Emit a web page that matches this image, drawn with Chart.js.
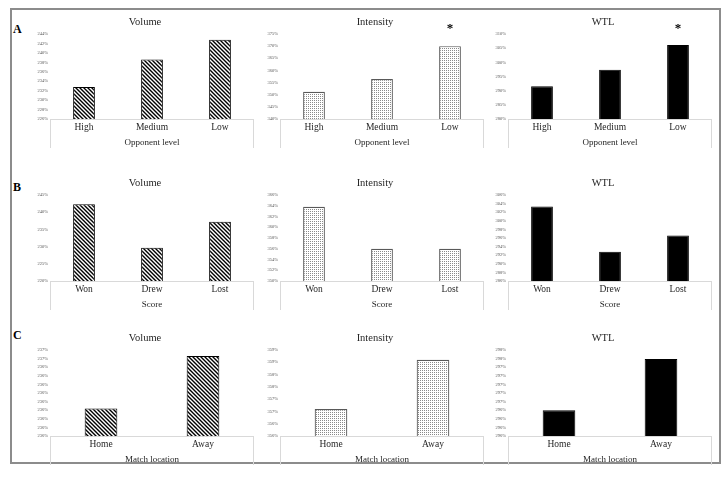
<!DOCTYPE html>
<html>
<head>
<meta charset="utf-8">
<script src="https://cdn.jsdelivr.net/npm/chart.js@4.4.1/dist/chart.umd.min.js"></script>
<style>
html, body { margin: 0; padding: 0; background: #fff; }
body { width: 727px; height: 479px; position: relative; overflow: hidden; }
#frame { position: absolute; left: 10px; top: 8px; width: 707px; height: 452px; border: 2px solid #8c8c8c; }
.tag { position: absolute; font: bold 12px "Liberation Serif", serif; line-height: 12px; color: #000; }
canvas { position: absolute; }
</style>
</head>
<body>
<div id="frame"></div>
<div class="tag" style="left:13px;top:23px">A</div>
<div class="tag" style="left:13px;top:181px">B</div>
<div class="tag" style="left:13px;top:329px">C</div>

<script>
// categories per row
const catsA = ['High', 'Medium', 'Low'];
const catsB = ['Won', 'Drew', 'Lost'];
const catsC = ['Home', 'Away'];
const axisTitles = ['Opponent level', 'Score', 'Match location'];
const titles = ['Volume', 'Intensity', 'WTL'];

// values (%)
const volA = [232.8, 238.6, 242.8];
const intA = [351.2, 356.5, 370.0];
const wtlA = [291.6, 297.4, 306.1];
const volB = [242.3, 229.7, 237.2];
const intB = [363.8, 356.0, 356.0];
const wtlB = [303.3, 292.8, 296.6];
const volC = [235.92, 236.53];
const intC = [356.6, 358.6];
const wtlC = [296.4, 297.59];

// significance markers
const sigA = [false, false, true];
const noSig = [false, false, false];

// y ranges [min, max]
const rangeVolA = [226, 244], rangeIntA = [340, 375], rangeWtlA = [280, 310];
const rangeVolB = [220, 245], rangeIntB = [350, 366], rangeWtlB = [286, 306];
const rangeVolC = [235.6, 236.6], rangeIntC = [355.5, 359], rangeWtlC = [295.8, 297.8];

// tick labels, top to bottom
const ticksVolA = ['244%', '242%', '240%', '238%', '236%', '234%', '232%', '230%', '228%', '226%'];
const ticksIntA = ['375%', '370%', '365%', '360%', '355%', '350%', '345%', '340%'];
const ticksWtlA = ['310%', '305%', '300%', '295%', '290%', '285%', '280%'];
const ticksVolB = ['245%', '240%', '235%', '230%', '225%', '220%'];
const ticksIntB = ['366%', '364%', '362%', '360%', '358%', '356%', '354%', '352%', '350%'];
const ticksWtlB = ['306%', '304%', '302%', '300%', '298%', '296%', '294%', '292%', '290%', '288%', '286%'];
const ticksVolC = ['237%', '237%', '236%', '236%', '236%', '236%', '236%', '236%', '236%', '236%', '236%'];
const ticksIntC = ['359%', '359%', '358%', '358%', '357%', '357%', '356%', '356%'];
const ticksWtlC = ['298%', '298%', '297%', '297%', '297%', '297%', '297%', '296%', '296%', '296%', '296%'];

const panels = [
    { row: 0, col: 0, cats: catsA, data: volA, range: rangeVolA, ticks: ticksVolA, sig: noSig },
    { row: 0, col: 1, cats: catsA, data: intA, range: rangeIntA, ticks: ticksIntA, sig: sigA },
    { row: 0, col: 2, cats: catsA, data: wtlA, range: rangeWtlA, ticks: ticksWtlA, sig: sigA },
    { row: 1, col: 0, cats: catsB, data: volB, range: rangeVolB, ticks: ticksVolB, sig: noSig },
    { row: 1, col: 1, cats: catsB, data: intB, range: rangeIntB, ticks: ticksIntB, sig: noSig },
    { row: 1, col: 2, cats: catsB, data: wtlB, range: rangeWtlB, ticks: ticksWtlB, sig: noSig },
    { row: 2, col: 0, cats: catsC, data: volC, range: rangeVolC, ticks: ticksVolC, sig: noSig },
    { row: 2, col: 1, cats: catsC, data: intC, range: rangeIntC, ticks: ticksIntC, sig: noSig },
    { row: 2, col: 2, cats: catsC, data: wtlC, range: rangeWtlC, ticks: ticksWtlC, sig: noSig },
];

// layout
const colLeft  = [28, 258, 486];
const rowTop   = [8, 169, 324];
const plotH    = [85, 86, 86];
const Y_W = 22, TOP = 26, X_H = 34, PLOT_W = 204, RIGHT = 6;

function stripePattern() {
    const c = document.createElement('canvas');
    c.width = c.height = 4;
    const g = c.getContext('2d');
    g.fillStyle = '#fff'; g.fillRect(0, 0, 4, 4);
    g.strokeStyle = '#000'; g.lineWidth = 1.4;
    g.beginPath();
    g.moveTo(0, 0);  g.lineTo(4, 4);
    g.moveTo(-1, 3); g.lineTo(1, 5);
    g.moveTo(3, -1); g.lineTo(5, 1);
    g.stroke();
    return g.createPattern(c, 'repeat');
}

function dotPattern() {
    const c = document.createElement('canvas');
    c.width = c.height = 2;
    const g = c.getContext('2d');
    g.fillStyle = '#fff'; g.fillRect(0, 0, 2, 2);
    g.fillStyle = '#8a8a8a'; g.fillRect(0, 0, 1, 1);
    return g.createPattern(c, 'repeat');
}

const extras = {
    id: 'extras',
    beforeDatasetsDraw(chart) {
        const { ctx, chartArea: a } = chart;
        ctx.save();
        ctx.strokeStyle = '#d9d9d9';
        ctx.lineWidth = 1;
        ctx.beginPath();
        ctx.moveTo(a.left, a.bottom + 0.5);   ctx.lineTo(a.right, a.bottom + 0.5);
        ctx.moveTo(a.left + 0.5, a.bottom);   ctx.lineTo(a.left + 0.5, a.bottom + 29);
        ctx.moveTo(a.right - 0.5, a.bottom);  ctx.lineTo(a.right - 0.5, a.bottom + 29);
        ctx.stroke();
        ctx.restore();
    },
    afterDraw(chart) {
        const o = chart.options.plugins.extras;
        const { ctx, chartArea: a } = chart;
        ctx.save();
        ctx.fillStyle = '#262626';
        ctx.textAlign = 'center';
        ctx.textBaseline = 'middle';
        ctx.font = '10.5px "Liberation Serif"';
        ctx.fillText(o.title, (a.left + a.right) / 2 - 7, a.top - 12);
        const meta = chart.getDatasetMeta(0);
        ctx.fillStyle = '#000';
        ctx.textBaseline = 'alphabetic';
        ctx.font = 'bold 13px "Liberation Serif"';
        o.sig.forEach((s, i) => {
            if (s && meta.data[i]) ctx.fillText('*', meta.data[i].x, a.top - 2);
        });
        ctx.restore();
    }
};

const stripes = stripePattern();
const dots    = dotPattern();
const fills   = [stripes, dots, '#000'];
const borders = ['#000', '#595959', '#000'];

for (const p of panels) {
    const cv = document.createElement('canvas');
    const w = Y_W + PLOT_W + RIGHT;
    const h = TOP + plotH[p.row] + X_H;
    cv.width = w; cv.height = h;
    cv.style.left = colLeft[p.col] + 'px';
    cv.style.top  = rowTop[p.row] + 'px';
    cv.style.width = w + 'px'; cv.style.height = h + 'px';
    document.body.appendChild(cv);

    const labels = p.ticks;
    new Chart(cv, {
        type: 'bar',
        data: {
            labels: p.cats,
            datasets: [{
                data: p.data,
                backgroundColor: fills[p.col],
                borderColor: borders[p.col],
                borderWidth: p.col === 1 ? 1.2 : 1,
                categoryPercentage: 1,
                barPercentage: 0.32,
            }],
        },
        options: {
            responsive: false,
            animation: false,
            devicePixelRatio: 1,
            layout: { padding: { left: 0, right: RIGHT, top: TOP, bottom: 0 } },
            plugins: {
                legend: { display: false },
                tooltip: { enabled: false },
                extras: { title: titles[p.col], sig: p.sig },
            },
            scales: {
                x: {
                    grid: { display: false, drawTicks: false },
                    border: { display: false },
                    ticks: { color: '#262626', padding: 3, font: { family: 'Liberation Serif', size: 9.5 } },
                    title: {
                        display: true, text: axisTitles[p.row], color: '#262626',
                        font: { family: 'Liberation Serif', size: 9 },
                        padding: { top: 0, bottom: 4.5 },
                    },
                    afterFit: s => { s.height = X_H; },
                },
                y: {
                    min: p.range[0],
                    max: p.range[1],
                    grid: { display: false, drawTicks: false },
                    border: { display: false },
                    ticks: {
                        count: labels.length,
                        padding: 2,
                        color: '#595959',
                        font: { family: 'Liberation Serif', size: 4.5 },
                        callback: (v, i, t) => labels[t.length - 1 - i],
                    },
                    afterFit: s => { s.width = Y_W; },
                },
            },
        },
        plugins: [extras],
    });
}
</script>
</body>
</html>
